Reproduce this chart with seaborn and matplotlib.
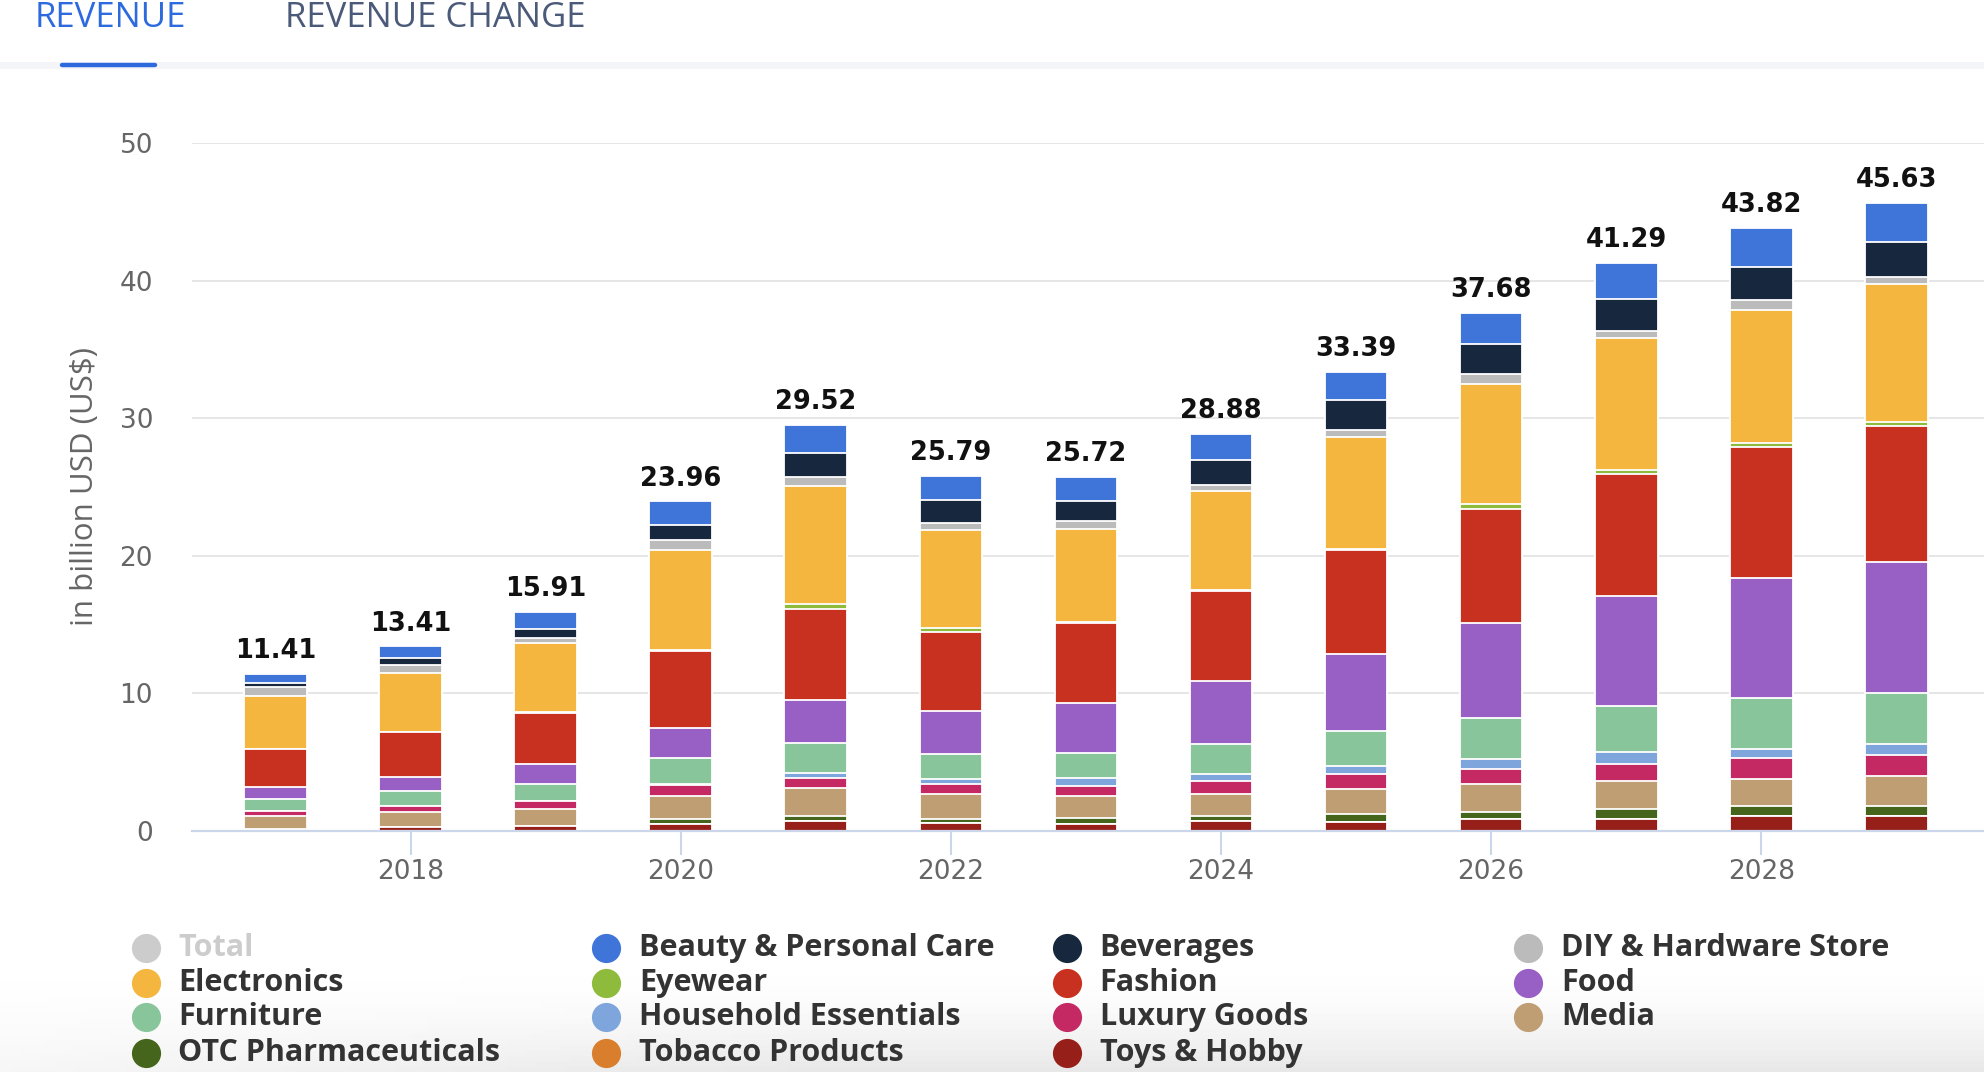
import numpy as np
import pandas as pd
import matplotlib
matplotlib.use("Agg")
import matplotlib.pyplot as plt
import seaborn as sns
from matplotlib.lines import Line2D

# ---------------- data ----------------
years = [2017, 2018, 2019, 2020, 2021, 2022, 2023, 2024, 2025, 2026, 2027, 2028, 2029]
totals = [11.41, 13.41, 15.91, 23.96, 29.52, 25.79, 25.72, 28.88, 33.39, 37.68, 41.29, 43.82, 45.63]

beauty      = [0.66, 0.81, 1.20, 1.74, 2.07, 1.70, 1.73, 1.91, 2.09, 2.26, 2.60, 2.81, 2.81]
beverages   = [0.32, 0.54, 0.70, 1.09, 1.71, 1.68, 1.47, 1.80, 2.15, 2.21, 2.33, 2.40, 2.59]
diy         = [0.59, 0.56, 0.36, 0.68, 0.68, 0.51, 0.54, 0.48, 0.53, 0.72, 0.53, 0.72, 0.47]
electronics = [3.85, 4.30, 5.01, 7.30, 8.58, 7.15, 6.76, 7.17, 8.09, 8.76, 9.60, 9.70, 10.05]
eyewear     = [0.00, 0.00, 0.05, 0.10, 0.37, 0.32, 0.10, 0.10, 0.10, 0.35, 0.32, 0.31, 0.31]
fashion     = [2.76, 3.24, 3.75, 5.57, 6.59, 5.69, 5.79, 6.50, 7.55, 8.24, 8.84, 9.51, 9.88]
food        = [0.88, 1.08, 1.45, 2.18, 3.12, 3.11, 3.66, 4.59, 5.64, 6.96, 7.99, 8.73, 9.51]
furniture   = [0.93, 1.08, 1.19, 1.87, 2.20, 1.82, 1.83, 2.18, 2.52, 2.92, 3.31, 3.68, 3.68]
household   = [0.00, 0.00, 0.00, 0.12, 0.37, 0.36, 0.54, 0.48, 0.58, 0.72, 0.93, 0.69, 0.84]
luxury      = [0.34, 0.39, 0.63, 0.75, 0.73, 0.73, 0.73, 0.96, 1.06, 1.14, 1.24, 1.50, 1.50]
media       = [0.93, 1.13, 1.21, 1.67, 2.00, 1.82, 1.66, 1.65, 1.86, 1.99, 2.01, 1.96, 2.18]
otc         = [0.05, 0.00, 0.00, 0.36, 0.37, 0.32, 0.37, 0.32, 0.53, 0.56, 0.74, 0.75, 0.75]
tobacco     = [0.00, 0.00, 0.00, 0.00, 0.00, 0.00, 0.00, 0.00, 0.00, 0.00, 0.00, 0.00, 0.00]
toys        = [0.10, 0.28, 0.36, 0.53, 0.73, 0.58, 0.54, 0.74, 0.69, 0.85, 0.85, 1.06, 1.06]

# series listed top-of-stack first
series_names = ["Beauty & Personal Care", "Beverages", "DIY & Hardware Store", "Electronics",
                "Eyewear", "Fashion", "Food", "Furniture", "Household Essentials",
                "Luxury Goods", "Media", "OTC Pharmaceuticals", "Tobacco Products", "Toys & Hobby"]
series_values = [beauty, beverages, diy, electronics, eyewear, fashion, food, furniture,
                 household, luxury, media, otc, tobacco, toys]
series_colors = ["#3f75d8", "#17273e", "#bbbbbb", "#f4b63f", "#8fbb3d", "#c8311f", "#985fc4",
                 "#89c59b", "#7ea6dc", "#c52963", "#bf9e73", "#45641c", "#d97e2d", "#962019"]

tick_years = [2018, 2020, 2022, 2024, 2026, 2028]
y_ticks = [0, 10, 20, 30, 40, 50]

legend_labels = ["Total", "Beauty & Personal Care", "Beverages", "DIY & Hardware Store",
                 "Electronics", "Eyewear", "Fashion", "Food",
                 "Furniture", "Household Essentials", "Luxury Goods", "Media",
                 "OTC Pharmaceuticals", "Tobacco Products", "Toys & Hobby"]

# ---------------- figure ----------------
W, H = 1984, 1072
sns.set_theme(style="white")
plt.rcParams['font.family'] = ['DejaVu Sans']

fig = plt.figure(figsize=(W / 100, H / 100), dpi=100)
fig.patch.set_facecolor("white")

# soft gray fade at the bottom
bg = fig.add_axes([0, 0, 1, 1], zorder=-10)
bg.set_axis_off()
yy = np.linspace(0, 1, 200)[:, None]
xx = np.linspace(0, 1, 400)[None, :]
alpha = np.clip((yy * H - 975) / (H - 975), 0, 1) ** 1.6 * np.clip(0.35 + xx * 1.6, 0, 1) * 0.55
img = np.zeros((200, 400, 4))
img[..., :3] = 0.84
img[..., 3] = alpha
bg.imshow(img, extent=[0, 1, 0, 1], aspect="auto", origin="upper")
bg.set_xlim(0, 1)
bg.set_ylim(0, 1)

ax = fig.add_axes([192 / W, 1 - 831 / H, (W - 192) / W, (831 - 143) / H])
ax.set_facecolor("none")

df = pd.DataFrame({n: v for n, v in zip(series_names, series_values)}, index=years)
stack_bottom_up = series_names[::-1]
cum = df[stack_bottom_up].cumsum(axis=1)
xcats = [str(y) for y in years]

# draw tallest cumulative first, each lower segment on top
for name, color in zip(series_names, series_colors):
    sns.barplot(x=xcats, y=cum[name].values, color=color, width=0.465, saturation=1,
                edgecolor="white", linewidth=1.3, errorbar=None, ax=ax, zorder=3)

for i, t in enumerate(totals):
    ax.annotate(f"{t:.2f}", xy=(i, t), xytext=(0, 7), textcoords="offset points",
                ha="center", va="bottom", fontsize=18.5, fontweight="bold",
                color="#111111", zorder=6)

ax.set_xlim(-0.62, 12.65)
ax.set_ylim(0, 50)
ax.set_yticks(y_ticks)
ax.set_yticklabels([str(v) for v in y_ticks])
ax.set_xticks([years.index(y) for y in tick_years])
ax.set_xticklabels([str(y) for y in tick_years])
ax.set_xlabel("")
ax.set_ylabel("")
ax.yaxis.grid(True, color="#e6e6e6", linewidth=1.4, zorder=0)
ax.xaxis.grid(False)
ax.set_axisbelow(True)
for s in ["top", "right", "left"]:
    ax.spines[s].set_visible(False)
ax.spines["bottom"].set_color("#ccd6eb")
ax.spines["bottom"].set_linewidth(1.6)
ax.spines["bottom"].set_zorder(5)
ax.tick_params(axis="x", length=17, width=1.5, color="#ccd6eb", labelcolor="#666666",
               labelsize=19, pad=3, bottom=True)
ax.tick_params(axis="y", length=0, labelcolor="#666666", labelsize=19, pad=28)

fig.text(85 / W, 1 - 486 / H, "in billion USD (US$)", rotation=90, ha="center", va="center",
         fontsize=22.5, color="#666666", family="Open Sans")

# tabs
fig.add_artist(Line2D([0, 1], [1 - 65 / H, 1 - 65 / H], transform=fig.transFigure,
                      color="#f3f5f9", linewidth=5, zorder=1))
fig.add_artist(Line2D([62 / W, 155 / W], [1 - 65 / H, 1 - 65 / H], transform=fig.transFigure,
                      color="#2d6ade", linewidth=3.2, solid_capstyle="round", zorder=2))
fig.text(35 / W, 1 - 27 / H, "REVENUE", color="#2d6ade", fontsize=25, family="Open Sans",
         ha="left", va="baseline")
fig.text(285 / W, 1 - 27 / H, "REVENUE CHANGE", color="#4a5a78", fontsize=25,
         family="Open Sans", ha="left", va="baseline")

# legend
color_map = dict(zip(series_names, series_colors))
color_map["Total"] = "#cccccc"
col_marker_x = [145.5, 606, 1066.6, 1528.4]
col_text_x = [178.4, 639, 1099.5, 1561.3]
row_y = [947.7, 983.2, 1017.4, 1052.8]
for k, lab in enumerate(legend_labels):
    r, c = divmod(k, 4)
    fig.add_artist(Line2D([col_marker_x[c] / W], [1 - row_y[r] / H], transform=fig.transFigure,
                          marker="o", markersize=21, color=color_map[lab], linestyle="none",
                          markeredgewidth=0))
    fig.text(col_text_x[c] / W, 1 - row_y[r] / H, lab, ha="left", va="center", fontsize=22,
             fontweight="bold", family="Open Sans",
             color="#cccccc" if lab == "Total" else "#333333")

fig.savefig("out.png", dpi=100, facecolor="white")
